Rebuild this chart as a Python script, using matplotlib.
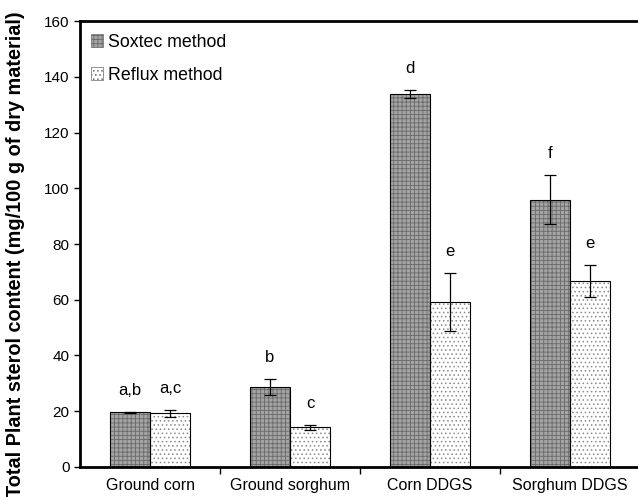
import numpy as np
import matplotlib
matplotlib.use("Agg")
import matplotlib.pyplot as plt
from matplotlib.patches import Patch

plt.rcParams['font.family'] = ['Liberation Sans', 'DejaVu Sans']
plt.rcParams['hatch.linewidth'] = 0.6

# data
categories = ["Ground corn", "Ground sorghum", "Corn DDGS", "Sorghum DDGS"]
soxtec = [19.6, 28.6, 133.8, 95.8]
soxtec_err = [0.3, 2.9, 1.3, 8.8]
reflux = [19.2, 14.2, 59.3, 66.7]
reflux_err = [1.3, 1.0, 10.4, 5.7]
soxtec_letters = ["a,b", "b", "d", "f"]
reflux_letters = ["a,c", "c", "e", "e"]

fig = plt.figure(figsize=(6.38, 4.97), dpi=100)
ax = fig.add_axes([0.1254, 0.0604, 0.8779, 0.8973])

x = np.arange(len(categories))
w = 0.2857

# textured fill first, then black outline on top
ax.bar(x - w / 2, soxtec, w, color="#a4a4a4", hatch="++++", edgecolor="#6a6a6a", linewidth=0)
ax.bar(x + w / 2, reflux, w, color="white", hatch="....", edgecolor="#8a8a8a", linewidth=0)
ax.bar(x - w / 2, soxtec, w, fill=False, edgecolor="black", linewidth=0.8)
ax.bar(x + w / 2, reflux, w, fill=False, edgecolor="black", linewidth=0.8)

ax.errorbar(x - w / 2, soxtec, yerr=soxtec_err, fmt="none", ecolor="black",
            elinewidth=0.9, capsize=4, capthick=0.9)
ax.errorbar(x + w / 2, reflux, yerr=reflux_err, fmt="none", ecolor="black",
            elinewidth=0.9, capsize=4, capthick=0.9)

# significance letters above each bar
for i in range(len(categories)):
    ax.text(x[i] - w / 2, soxtec[i] + soxtec_err[i] + 5, soxtec_letters[i],
            ha="center", va="bottom", fontsize=12)
    ax.text(x[i] + w / 2, reflux[i] + reflux_err[i] + 5, reflux_letters[i],
            ha="center", va="bottom", fontsize=12)

ax.set_xlim(-0.5, 3.5)
ax.set_ylim(0, 160)
ax.set_yticks(range(0, 161, 20))
ax.tick_params(axis="y", labelsize=11, length=4, width=1, direction="out")
ax.set_xticks(x)
ax.set_xticklabels(categories, fontsize=11.5)
ax.tick_params(axis="x", which="major", length=0, pad=8)
ax.set_xticks([0.5, 1.5, 2.5], minor=True)
ax.tick_params(axis="x", which="minor", length=5, width=1, direction="out")

ax.set_ylabel("Total Plant sterol content (mg/100 g of dry material)",
              fontsize=14.3, fontweight="bold")
ax.yaxis.set_label_coords(-0.098, 0.478)

for s in ["left", "bottom", "top"]:
    ax.spines[s].set_linewidth(2)
ax.spines["right"].set_visible(False)

handles = [Patch(facecolor="#a4a4a4", hatch="++++", edgecolor="#6a6a6a", linewidth=0.5),
           Patch(facecolor="white", hatch="....", edgecolor="#6a6a6a", linewidth=0.5)]
ax.legend(handles, ["Soxtec method", "Reflux method"], loc="upper left", frameon=False,
          fontsize=12.8, handlelength=0.7, handleheight=0.7, handletextpad=0.3,
          labelspacing=0.9, borderaxespad=0.2, bbox_to_anchor=(0.0, 0.995))

fig.savefig("out.png", dpi=100)
